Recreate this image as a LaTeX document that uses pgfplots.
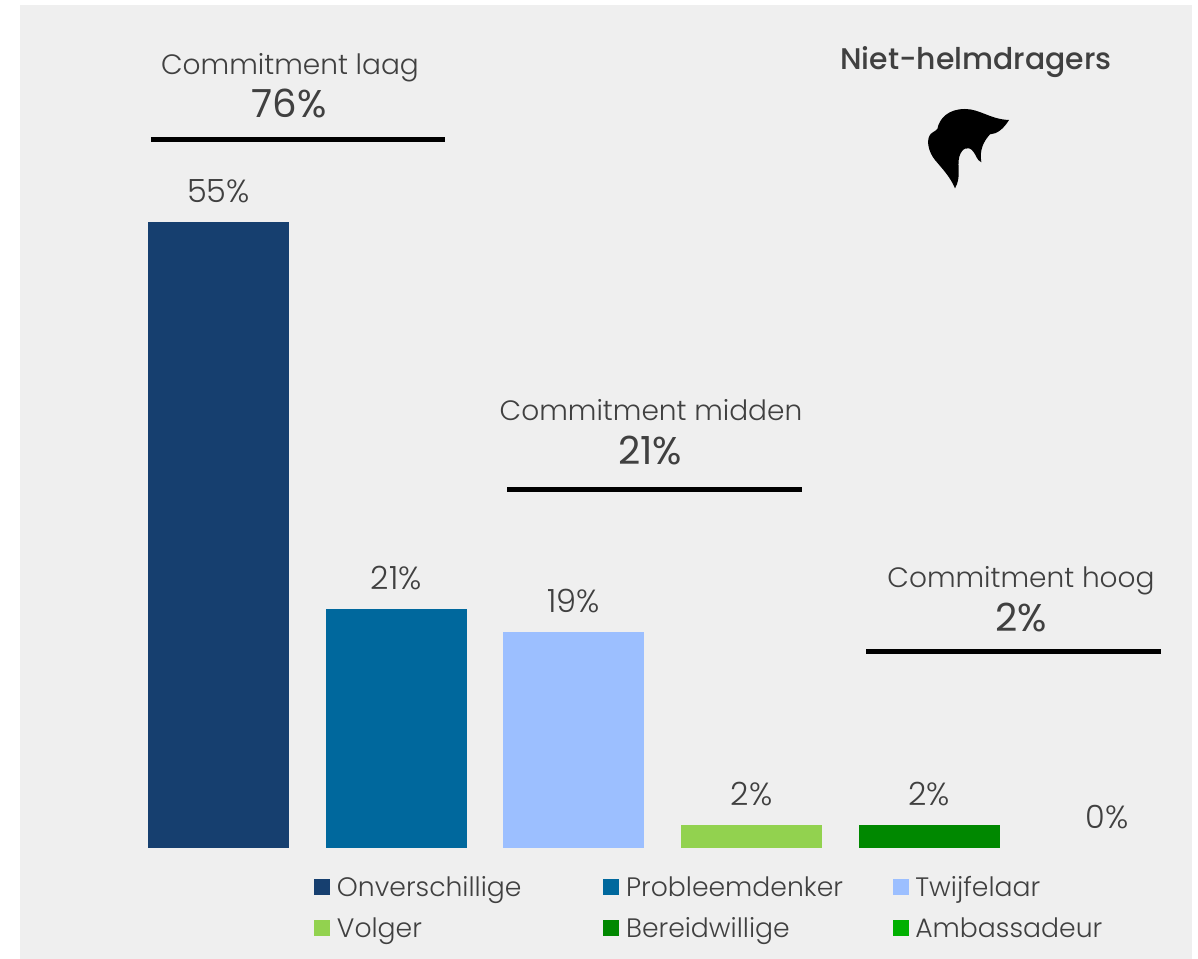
\documentclass[border=0pt]{standalone}
\usepackage{pgfplots}
\pgfplotsset{compat=1.18}
\usepackage{fontspec}
\setmainfont{Poppins}[UprightFont={* Light},BoldFont={* Medium}]
\newfontfamily\medfont{Poppins}
\newfontfamily\strongfont{Poppins Medium}
\definecolor{bg}{HTML}{EFEFEF}
\definecolor{txt}{HTML}{404040}
\definecolor{c1}{HTML}{163F6F}
\definecolor{c2}{HTML}{00689D}
\definecolor{c3}{HTML}{9CBFFF}
\definecolor{c4}{HTML}{92D24F}
\definecolor{c5}{HTML}{008800}
\definecolor{c6}{HTML}{00B000}
\newcommand{\px}[3]{\node[text=txt,inner sep=0pt,anchor=base] at (#1*0.75pt,{(959-#2)*0.75pt}) {#3};}
\begin{document}
\begin{tikzpicture}
\path (0,0) rectangle (898.5pt,719.25pt);
\fill[bg] (15pt,0pt) rectangle (894pt,715.5pt);
\begin{axis}[
  at={(0pt,0pt)},anchor=south west,
  scale only axis,width=898.5pt,height=719.25pt,
  xmin=-1.2296,xmax=5.512,ymin=-9.75,ymax=74.5,
  axis lines=none,clip=false,
  /pgf/number format/assume math mode=true,
  ybar,bar shift=0pt,bar width=105.75pt,
  nodes near coords={\pgfmathprintnumber{\pgfplotspointmeta}\%},
  every node near coord/.append style={text=txt,font=\fontsize{24}{28}\selectfont,yshift=10.8pt},
  legend columns=3,
  legend style={at={(235.5pt,7.5pt)},anchor=south west,draw=none,fill=none,inner sep=0pt,
    font=\fontsize{20}{24}\selectfont,text=txt,
    nodes={text width=204.9pt,align=left,inner sep=0pt,anchor=west,minimum height=30.75pt},
    /tikz/every even column/.append style={column sep=0pt}},
  legend image code/.code={\fill[#1] (0pt,-6pt) rectangle (12pt,6pt);},
]
\addplot[fill=c1,draw=none] coordinates {(0,55)};
\addplot[fill=c2,draw=none] coordinates {(1,21)};
\addplot[fill=c3,draw=none] coordinates {(2,19)};
\addplot[fill=c4,draw=none] coordinates {(3,2)};
\addplot[fill=c5,draw=none] coordinates {(4,2)};
\addplot[fill=none,draw=none,legend image code/.code={\fill[c6] (0pt,-6pt) rectangle (12pt,6pt);}] coordinates {(5,0)};
\legend{\hspace*{5pt}Onverschillige,\hspace*{5pt}Probleemdenker,\hspace*{5pt}Twijfelaar,\hspace*{5pt}Volger,\hspace*{5pt}Bereidwillige,\hspace*{5pt}Ambassadeur}
\addplot[forget plot,sharp plot,black,line width=4.3pt,nodes near coords={}] coordinates {(-0.380,62.25) (1.275,62.25)};
\addplot[forget plot,sharp plot,black,line width=4.3pt,nodes near coords={}] coordinates {(1.624,31.50) (3.284,31.50)};
\addplot[forget plot,sharp plot,black,line width=4.3pt,nodes near coords={}] coordinates {(3.644,17.26) (5.304,17.26)};
\end{axis}
\begin{scope}[font=\fontsize{21}{25}\selectfont]
\px{290}{75}{Commitment laag}
\px{651}{421}{Commitment midden}
\px{1021}{588}{Commitment hoog}
\end{scope}
\begin{scope}[font=\fontsize{29}{33}\selectfont\medfont]
\px{289}{118}{76\%}
\px{650}{465}{21\%}
\px{1021}{632}{2\%}
\end{scope}
\begin{scope}[font=\fontsize{22.4}{26}\selectfont\strongfont]
\px{976}{70}{Niet-helmdragers}
\end{scope}
\begin{scope}[x=0.25pt,y=-0.25pt,shift={(615pt,696.75pt)}]
\fill[black] (435,237) .. controls (480,237) and (510,268) .. (567,270)
  .. controls (550,298) and (530,312) .. (510,313)
  .. controls (490,335) and (478,360) .. (484,397)
  .. controls (470,390) and (468,375) .. (460,365)
  .. controls (445,345) and (425,355) .. (418,380)
  .. controls (410,410) and (425,440) .. (405,475)
  .. controls (390,440) and (370,420) .. (345,390)
  .. controls (325,365) and (320,335) .. (328,318)
  .. controls (332,308) and (345,305) .. (352,297)
  .. controls (358,265) and (385,237) .. (435,237) -- cycle;
\end{scope}
\end{tikzpicture}
\end{document}
